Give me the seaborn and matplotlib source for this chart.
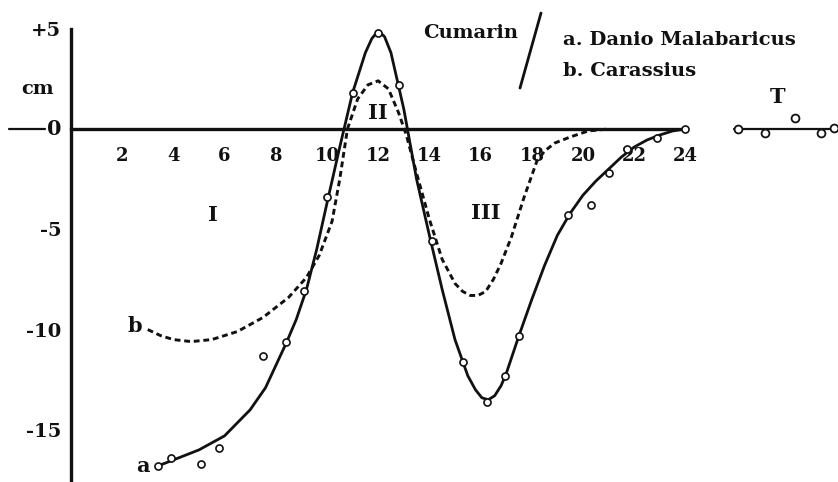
import numpy as np
import pandas as pd
import matplotlib
matplotlib.use("Agg")
import matplotlib.pyplot as plt
import seaborn as sns

# curve a (Danio Malabaricus), smooth line
a_x = [3.4, 4, 5, 6, 7, 7.6, 8.0, 8.4, 8.8, 9.2, 9.6, 10, 10.5, 11, 11.5, 11.75, 12, 12.25,
       12.5, 13, 13.5, 14, 14.5, 15, 15.5, 15.8, 16.05, 16.3, 16.55, 16.8, 17, 17.5, 18,
       18.5, 19, 19.5, 20, 20.5, 21, 21.5, 22, 22.5, 23, 23.5, 24]
a_y = [-16.8, -16.5, -16.0, -15.3, -14.0, -12.9, -11.8, -10.7, -9.5, -8.0, -6.0, -3.7,
       -0.9, 1.8, 3.8, 4.5, 4.9, 4.6, 3.8, 1.0, -2.5, -5.3, -8.0, -10.5, -12.3, -13.0,
       -13.4, -13.5, -13.3, -12.8, -12.2, -10.3, -8.5, -6.8, -5.3, -4.2, -3.3, -2.6,
       -2.0, -1.4, -0.9, -0.55, -0.3, -0.1, 0.0]

# measured points for a
pa_x = [3.4, 3.9, 5.1, 5.8, 7.5, 8.4, 9.1, 10.0, 11.0, 12.0, 12.8, 14.1, 15.3, 16.25,
        16.95, 17.5, 19.4, 20.3, 21.0, 21.7, 22.9, 24.0]
pa_y = [-16.8, -16.4, -16.7, -15.9, -11.3, -10.6, -8.1, -3.4, 1.8, 4.8, 2.2, -5.6, -11.6,
        -13.6, -12.3, -10.3, -4.3, -3.8, -2.2, -1.0, -0.45, 0.0]

# curve b (Carassius)
b_x = [3.0, 3.5, 4, 4.7, 5.5, 6.5, 7.5, 8.5, 9.2, 9.7, 10.2, 10.5, 10.8, 11.2, 11.6, 12.0,
       12.4, 12.8, 13.1, 13.5, 14, 14.5, 15, 15.3, 15.6, 15.9, 16.2, 16.5, 16.8, 17.2,
       17.7, 18.2, 18.5, 18.9, 19.5, 20.2, 21]
b_y = [-10.0, -10.3, -10.5, -10.6, -10.5, -10.1, -9.4, -8.4, -7.4, -6.3, -4.6, -2.5, 0.0,
       1.5, 2.2, 2.4, 2.0, 0.8, -0.3, -2.2, -4.5, -6.5, -7.7, -8.1, -8.3, -8.3, -8.1,
       -7.5, -6.7, -5.4, -3.4, -1.6, -1.1, -0.7, -0.4, -0.1, 0.0]

# control T
t_x = [26.05, 27.1, 28.3, 29.3, 29.8]
t_y = [0.0, -0.2, 0.55, -0.2, 0.05]

x_ticks = list(range(2, 25, 2))
y_ticks = [5, -5, -10, -15]
y_labels = ["+5", "-5", "-10", "-15"]

sns.set_style("white")
plt.rcParams["font.family"] = ["DejaVu Serif"]
plt.rcParams["font.weight"] = "bold"

fig = plt.figure(figsize=(8.38, 4.82), dpi=100)
ax = fig.add_axes([0, 0, 1, 1])
ax.set_xlim(-2.77, 29.96)
ax.set_ylim(-17.6, 6.43)

ink = "#111111"
sns.lineplot(x=a_x, y=a_y, ax=ax, color=ink, lw=2.0, sort=False)
sns.lineplot(x=b_x, y=b_y, ax=ax, color=ink, lw=2.1, sort=False, linestyle=(0, (2.0, 1.3)))
sns.scatterplot(x=pa_x, y=pa_y, ax=ax, s=26, facecolor="white", edgecolor=ink, linewidth=1.2, zorder=5)
ax.plot([25.9, 30], [0, 0], color=ink, lw=1.6)
sns.scatterplot(x=t_x, y=t_y, ax=ax, s=32, facecolor="white", edgecolor=ink, linewidth=1.3, zorder=5)

# axes
for s in ["top", "right"]:
    ax.spines[s].set_visible(False)
ax.spines["left"].set_position(("data", 0))
ax.spines["bottom"].set_position(("data", 0))
ax.spines["left"].set_bounds(-17.6, 5)
ax.spines["bottom"].set_bounds(0, 24)
for s in ["left", "bottom"]:
    ax.spines[s].set_linewidth(2.4)
    ax.spines[s].set_color(ink)
    ax.spines[s].set_zorder(3)
ax.set_xticks(x_ticks)
ax.set_xticklabels([str(v) for v in x_ticks])
ax.set_yticks(y_ticks)
ax.set_yticklabels(y_labels)
ax.tick_params(axis="both", direction="out", length=6, width=2, color=ink,
               labelsize=14, labelcolor=ink, pad=1)
ax.tick_params(axis="x", pad=7, labelsize=13)
ax.plot([-2.4, -1.0], [0, 0], color=ink, lw=1.6, clip_on=False)
ax.text(-0.38, 0, "0", fontsize=15, ha="right", va="center", color=ink)

ax.text(-1.3, 2.0, "cm", fontsize=14, ha="center", va="center", color=ink)
ax.text(5.55, -4.3, "I", fontsize=15, ha="center", va="center", color=ink)
ax.text(12.0, 0.8, "II", fontsize=15, ha="center", va="center", color=ink)
ax.text(16.2, -4.2, "III", fontsize=15, ha="center", va="center", color=ink)
ax.text(2.8, -16.8, "a", fontsize=15, ha="center", va="center", color=ink)
ax.text(2.5, -9.8, "b", fontsize=15, ha="center", va="center", color=ink)
ax.text(27.6, 1.6, "T", fontsize=15, ha="center", va="center", color=ink)
ax.text(15.6, 4.8, "Cumarin", fontsize=14, ha="center", va="center", color=ink)
ax.plot([18.36, 17.54], [5.78, 2.04], color=ink, lw=2)
ax.text(19.2, 4.43, "a. Danio Malabaricus", fontsize=14, ha="left", va="center", color=ink)
ax.text(19.2, 2.9, "b. Carassius", fontsize=14, ha="left", va="center", color=ink)

fig.savefig("out.png", dpi=100)
